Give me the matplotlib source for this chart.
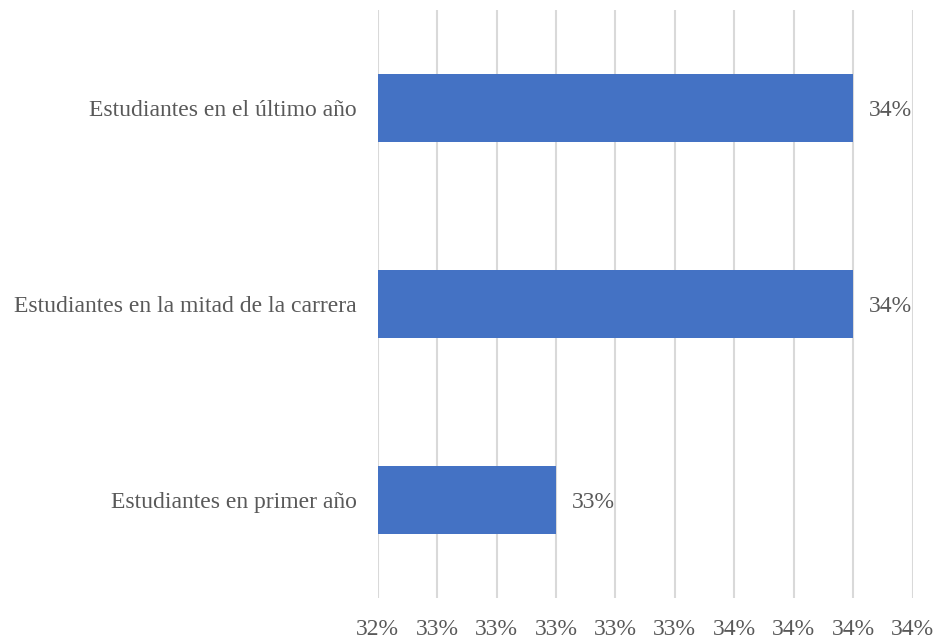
import matplotlib.pyplot as plt
from matplotlib.ticker import FuncFormatter

categorias = ['Estudiantes en primer año',
              'Estudiantes en la mitad de la carrera',
              'Estudiantes en el último año']
valores = [0.330, 0.340, 0.340]
etiquetas = ['33%', '34%', '34%']
ticks_x = [0.324, 0.326, 0.328, 0.330, 0.332, 0.334, 0.336, 0.338, 0.340, 0.342]

plt.rcParams['font.family'] = ['Liberation Serif', 'DejaVu Serif']
gris = '#595959'

fig = plt.figure(figsize=(9.34, 6.39), dpi=100)
ax = fig.add_axes([0.4044, 0.0642, 0.5726, 0.9202])

ax.barh(categorias, valores, height=0.35, color='#4472C4', left=0, zorder=3)

ax.set_xlim(ticks_x[0], ticks_x[-1])
ax.set_ylim(-0.5, 2.5)
ax.set_xticks(ticks_x)
ax.xaxis.set_major_formatter(FuncFormatter(lambda v, p: f'{v*100:.0f}%'))
ax.grid(axis='x', color='#d9d9d9', linewidth=1.5, zorder=0)

for s in ax.spines.values():
    s.set_visible(False)
ax.tick_params(axis='both', length=0, labelsize=17, labelcolor=gris)
ax.tick_params(axis='x', pad=15)
ax.tick_params(axis='y', pad=15)

for i, (v, t) in enumerate(zip(valores, etiquetas)):
    ax.annotate(t, (v, i), xytext=(11.5, -1.5), textcoords='offset points',
                ha='left', va='center', fontsize=17, color=gris)

fig.savefig('out.png', dpi=100)
